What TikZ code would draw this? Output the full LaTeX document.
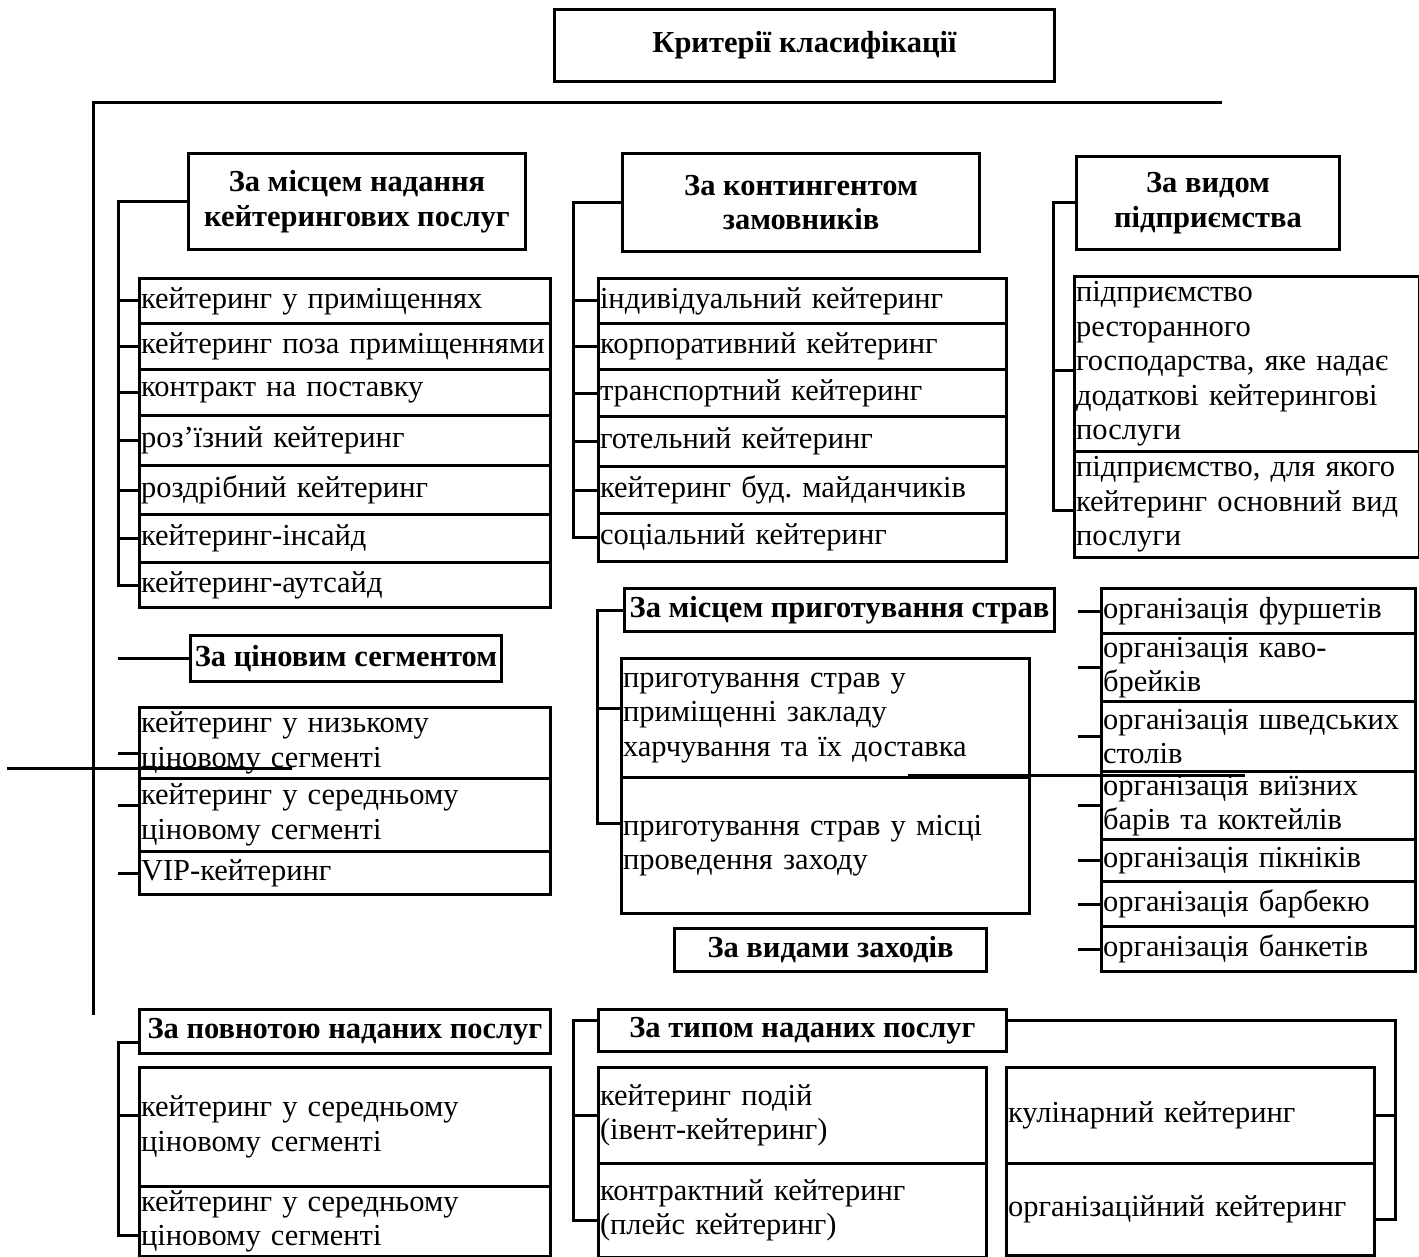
\documentclass[tikz,border=0pt]{standalone}
\usepackage{fontspec}
\setmainfont{Liberation Serif}

\newcommand\diagfont{\fontsize{30.5}{34.5}\selectfont}

\begin{document}
\frenchspacing
\begin{tikzpicture}[
  x=1pt,y=-1pt,
  font=\diagfont,
  line width=3pt,
  hd/.style={draw,anchor=north west,font=\diagfont\bfseries,align=center,inner sep=0pt},
  itm/.style={draw,anchor=north west,align=left,inner xsep=1.5pt,inner ysep=0pt},
  link/.style={line width=3pt}
]
\useasboundingbox (0,0) rectangle (1419,1257);

\node[hd,minimum width=500,minimum height=72] (crit) at (553,8) {Критерії класифікації};

% main spine
\coordinate (mainTop) at (93,103);
\coordinate (mainEnd) at (1222,103);
\coordinate (mainBot) at (93,1015);
\draw[link] (mainBot) -- (mainTop) -- (mainEnd);

% by place of service
\node[hd,minimum width=337,minimum height=96] (placeHd) at (187,152) {За місцем надання\\кейтерингових послуг};
\coordinate (placeSp) at (118,200);
\foreach \i/\y/\h/\t in {1/277/45/{кейтеринг у приміщеннях},2/322/46/{кейтеринг поза приміщеннями},
  3/368/46/{контракт на поставку},4/414/50/{роз’їзний кейтеринг},5/464/49/{роздрібний кейтеринг},
  6/513/48/{кейтеринг-інсайд},7/561/45/{кейтеринг-аутсайд}}{
  \node[itm,minimum width=411,minimum height=\h,text width=408] (place\i) at (138,\y) {\t};
}
\draw[link] (placeHd.west) -- (placeHd.west -| placeSp) |- (place7.west);
\foreach \i in {1,...,6}{\draw[link] (place\i.west) -- (place\i.west -| placeSp);}

% by customers
\node[hd,minimum width=357,minimum height=98] (custHd) at (621,152) {За контингентом\\замовників};
\coordinate (custSp) at (573,201);
\foreach \i/\y/\h/\t in {1/277/45/{індивідуальний кейтеринг},2/322/46/{корпоративний кейтеринг},
  3/368/47/{транспортний кейтеринг},4/415/50/{готельний кейтеринг},5/465/47/{кейтеринг буд. майданчиків},
  6/512/48/{соціальний кейтеринг}}{
  \node[itm,minimum width=408,minimum height=\h,text width=405] (cust\i) at (597,\y) {\t};
}
\draw[link] (custHd.west) -- (custHd.west -| custSp) |- (cust6.west);
\foreach \i in {1,...,5}{\draw[link] (cust\i.west) -- (cust\i.west -| custSp);}

% by enterprise type
\node[hd,minimum width=263,minimum height=93] (entHd) at (1075,155) {За видом\\підприємства};
\coordinate (entSp) at (1053,201);
\node[itm,minimum width=345,minimum height=175,text width=342] (ent1) at (1073,275)
  {підприємство\\ресторанного\\господарства, яке надає\\додаткові кейтерингові\\послуги};
\node[itm,minimum width=345,minimum height=106,text width=342] (ent2) at (1073,450)
  {підприємство, для якого\\кейтеринг основний вид\\послуги};
\draw[link] (entHd.west) -- (entHd.west -| entSp) |- ([yshift=-6pt]ent2.west);
\draw[link] ([yshift=-6pt]ent1.west) -- ([yshift=-6pt]ent1.west -| entSp);

% by price segment
\node[hd,minimum width=311,minimum height=46] (priceHd) at (189,634) {За ціновим сегментом};
\coordinate (priceEnd) at (118,657);
\draw[link] (priceHd.west) -- (priceHd.west -| priceEnd);
\foreach \i/\y/\h/\t/\s in {1/706/71/{кейтеринг у низькому\\ціновому сегменті}/-10,
  2/777/73/{кейтеринг у середньому\\ціновому сегменті}/10,3/850/43/{VIP-кейтеринг}/0}{
  \node[itm,minimum width=411,minimum height=\h,text width=408] (price\i) at (138,\y) {\t};
  \draw[link] ([yshift=\s pt]price\i.west) -- ([yshift=\s pt]price\i.west -| priceEnd);
}
\coordinate (strayA1) at (7,768);
\coordinate (strayA2) at (292,768);
\draw[link] (strayA1) -- (strayA2);

% by place of cooking
\node[hd,minimum width=430,minimum height=43] (prepHd) at (623,587) {За місцем приготування страв};
\coordinate (prepSp) at (597,608);
\node[itm,minimum width=408,minimum height=119,text width=405] (prep1) at (620,657)
  {приготування страв у\\приміщенні закладу\\харчування та їх доставка};
\node[itm,minimum width=408,minimum height=136,text width=405] (prep2) at (620,776)
  {приготування страв у місці\\проведення заходу};
\draw[link] (prepHd.west) -- (prepHd.west -| prepSp) |- ([yshift=22pt]prep2.west);
\draw[link] ([yshift=10pt]prep1.west) -- ([yshift=10pt]prep1.west -| prepSp);
\coordinate (strayB1) at (908,775);
\coordinate (strayB2) at (1245,775);
\draw[link] (strayB1) -- (strayB2);

% by kinds of events
\node[hd,minimum width=312,minimum height=43] (eventHd) at (673,927) {За видами заходів};
\coordinate (eventSp) at (1078,605);
\foreach \i/\y/\h/\t in {1/587/45/{організація фуршетів},2/632/68/{організація каво-\\брейків},
  3/700/70/{організація шведських\\столів},4/770/68/{організація виїзних\\барів та коктейлів},
  5/838/42/{організація пікніків},6/880/45/{організація барбекю},7/925/45/{організація банкетів}}{
  \node[itm,minimum width=314,minimum height=\h,text width=311] (event\i) at (1100,\y) {\t};
  \draw[link] (event\i.west) -- (event\i.west -| eventSp);
}

% by completeness of services
\node[hd,minimum width=411,minimum height=44] (fullHd) at (138,1008) {За повнотою наданих послуг};
\coordinate (fullSp) at (118,1042);
\node[itm,minimum width=411,minimum height=119,text width=408] (full1) at (138,1066)
  {кейтеринг у середньому\\ціновому сегменті};
\node[itm,minimum width=411,minimum height=70,text width=408] (full2) at (138,1185)
  {кейтеринг у середньому\\ціновому сегменті};
\draw[link] (fullHd.west |- fullSp) -- (fullSp) |- ([yshift=-14pt]full2.west);
\draw[link] ([yshift=12pt]full1.west) -- ([yshift=12pt]full1.west -| fullSp);

% by type of services
\node[hd,minimum width=408,minimum height=42] (typeHd) at (597,1008) {За типом наданих послуг};
\coordinate (typeSp) at (573,1020);
\coordinate (typeSpR) at (1395,1020);
\node[itm,minimum width=388,minimum height=96,text width=385] (typeL1) at (597,1066)
  {кейтеринг подій\\(івент-кейтеринг)};
\node[itm,minimum width=388,minimum height=94,text width=385] (typeL2) at (597,1162)
  {контрактний кейтеринг\\(плейс кейтеринг)};
\node[itm,minimum width=368,minimum height=96,text width=365] (typeR1) at (1005,1066)
  {кулінарний кейтеринг};
\node[itm,minimum width=368,minimum height=92,text width=365] (typeR2) at (1005,1162)
  {організаційний кейтеринг};
\draw[link] (typeHd.west |- typeSp) -- (typeSp) |- ([yshift=-10pt]typeL2.west);
\draw[link] (typeL1.west) -- (typeL1.west -| typeSp);
\draw[link] (typeHd.east |- typeSpR) -- (typeSpR) |- ([yshift=-10pt]typeR2.east);
\draw[link] (typeR1.east) -- (typeR1.east -| typeSpR);
\end{tikzpicture}
\end{document}
